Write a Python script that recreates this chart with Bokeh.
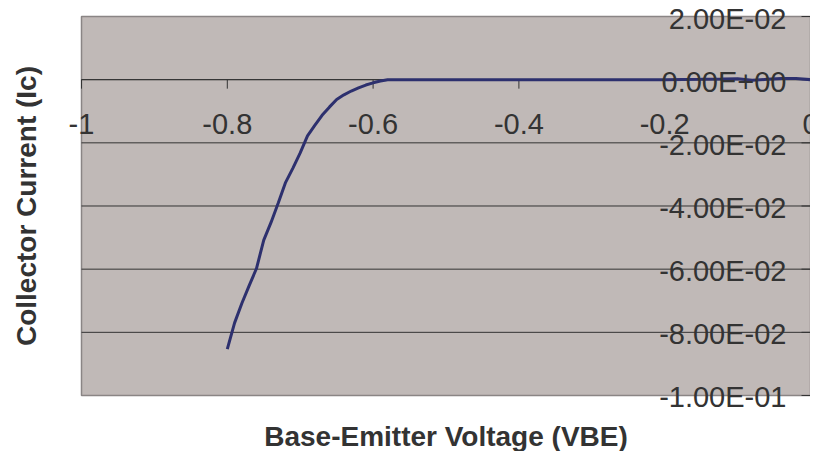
import math
from bokeh.plotting import figure
from bokeh.models import Label
from bokeh.embed import file_html
from bokeh.resources import INLINE

vbe = [-0.80, -0.79, -0.78, -0.77, -0.76, -0.75, -0.74, -0.73, -0.72, -0.71,
       -0.70, -0.69, -0.68, -0.67, -0.66, -0.65, -0.64, -0.63, -0.62, -0.61,
       -0.60, -0.59, -0.58, -0.50, -0.40, -0.30, -0.20, -0.15, -0.12, -0.10,
       -0.08, -0.06, -0.04, -0.02, 0.0]
ic = [-0.0853, -0.0770, -0.0708, -0.0652, -0.0598, -0.0508, -0.0452, -0.0390, -0.0325, -0.0280,
      -0.0232, -0.0178, -0.0145, -0.0113, -0.0087, -0.0063, -0.0048, -0.0036, -0.0026, -0.0017,
      -0.0010, -0.0004, 0.0, 0.0, 0.0, 0.0, 0.0, 0.0001, 0.0002, 0.0003,
      -0.0002, 0.0001, 0.0004, 0.0004, 0.0]

x_ticks = [-1.0, -0.8, -0.6, -0.4, -0.2, 0.0]
x_tick_labels = ["-1", "-0.8", "-0.6", "-0.4", "-0.2", "0"]
y_ticks = [0.02, 0.0, -0.02, -0.04, -0.06, -0.08, -0.1]
y_tick_labels = ["2.00E-02", "0.00E+00", "-2.00E-02", "-4.00E-02",
                 "-6.00E-02", "-8.00E-02", "-1.00E-01"]
x_title = "Base-Emitter Voltage (VBE)"
y_title = "Collector Current (Ic)"

FONT = "Liberation Sans"
TXT = "#333333"
AXC = "#333333"
PLOT_BG = "#C0B9B7"

# frame spans the whole canvas; ranges padded so the plot area sits where Excel puts it
p = figure(width=810, height=451, x_range=(-1.11111, 0.0), y_range=(-0.117731, 0.025066),
           x_axis_location=None, y_axis_location=None,
           output_backend="svg", toolbar_location=None, min_border=0,
           background_fill_color="white", border_fill_color="white",
           outline_line_color=None)
for g in p.grid:
    g.visible = False

x0, x1 = x_ticks[0], x_ticks[-1]
ytop, ybot = y_ticks[0], y_ticks[-1]

# plot area
p.quad(left=[x0], right=[x1], bottom=[ybot], top=[ytop],
       fill_color=PLOT_BG, line_color="#8A8585", line_width=1.5)

# horizontal gridlines
gy = y_ticks[1:-1]
p.segment(x0=[x0] * len(gy), x1=[x1] * len(gy), y0=gy, y1=gy,
          line_color=AXC, line_width=1)

# axis lines crossing at the origin
p.segment(x0=[x0, x1], y0=[0.0, ybot], x1=[x1, x1], y1=[0.0, ytop],
          line_color=AXC, line_width=1)

# tick marks
p.ray(x=x_ticks, y=[0.0] * len(x_ticks), length=9, length_units="screen",
      angle=-math.pi / 2, line_color=AXC, line_width=1)
p.ray(x=[0.0] * len(y_ticks), y=y_ticks, length=9, length_units="screen",
      angle=math.pi, line_color=AXC, line_width=1)

# data
p.line(vbe, ic, line_color="#2D306E", line_width=3)

# tick labels
for xv, t in zip(x_ticks, x_tick_labels):
    p.add_layout(Label(x=xv, y=0.0, text=t, text_align="center", text_baseline="top",
                       y_offset=-34, text_font_size="29px", text_font=FONT,
                       text_color=TXT))
for yv, t in zip(y_ticks, y_tick_labels):
    p.add_layout(Label(x=0.0, y=yv, text=t, text_align="right", text_baseline="middle",
                       x_offset=-24, y_offset=-2, text_font_size="29px", text_font=FONT,
                       text_color=TXT))

# axis titles
p.add_layout(Label(x=(x0 + x1) / 2, y=ybot, text=x_title, text_align="center",
                   text_baseline="top", y_offset=-26, text_font_size="28px",
                   text_font=FONT, text_font_style="bold", text_color=TXT))
p.add_layout(Label(x=x0, y=(ytop + ybot) / 2, text=y_title, text_align="center",
                   text_baseline="top", x_offset=-70, angle=math.pi / 2,
                   text_font_size="28px", text_font=FONT, text_font_style="bold",
                   text_color=TXT))

open("out.html", "w").write(file_html(p, INLINE))
